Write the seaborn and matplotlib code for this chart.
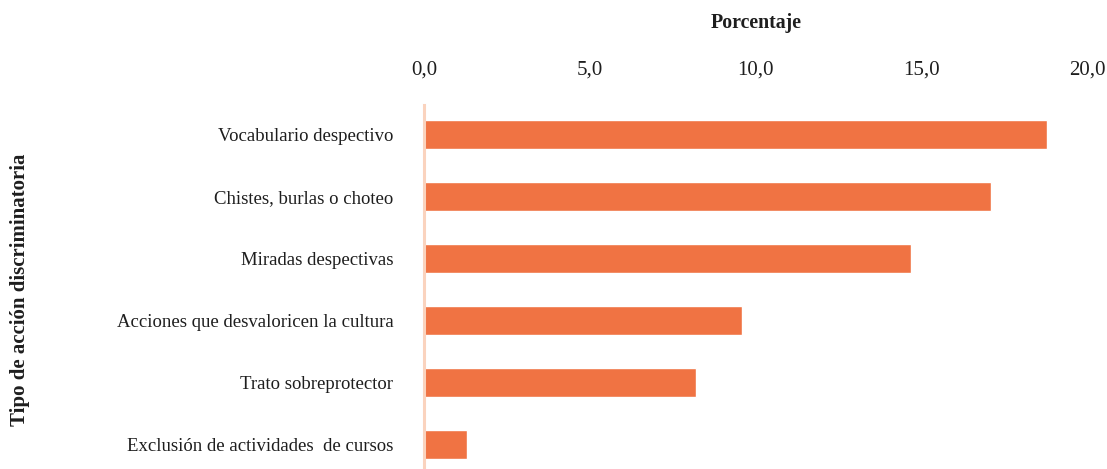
import matplotlib
matplotlib.use("Agg")
import matplotlib.pyplot as plt
import seaborn as sns
import pandas as pd
from matplotlib.ticker import FuncFormatter

categorias = [
    "Vocabulario despectivo",
    "Chistes, burlas o choteo",
    "Miradas despectivas",
    "Acciones que desvaloricen la cultura",
    "Trato sobreprotector",
    "Exclusión de actividades  de cursos",
]
porcentajes = [18.8, 17.1, 14.7, 9.6, 8.2, 1.3]
ticks_x = [0, 5, 10, 15, 20]

df = pd.DataFrame({"categoria": categorias, "porcentaje": porcentajes})

sns.set_theme(style="white")
plt.rcParams["font.family"] = ["Liberation Serif", "DejaVu Serif"]

W, H = 1107, 469
fig = plt.figure(figsize=(W / 100, H / 100), dpi=100)
# axes spans x: 424..1087 px, y: 105..475 px (bottom runs just past the canvas)
ax = fig.add_axes([424 / W, 1 - 475 / H, (1087 - 424) / W, (475 - 105) / H])

sns.barplot(data=df, x="porcentaje", y="categoria", color="#F07343",
            saturation=1, width=0.47, ax=ax)

ax.set_xlim(0, 20)
ax.set_ylim(5.49, -0.476)
ax.set_xticks(ticks_x)
ax.xaxis.set_major_formatter(FuncFormatter(lambda v, p: f"{v:.1f}".replace(".", ",")))
ax.xaxis.tick_top()
ax.tick_params(axis="x", length=0, pad=18, labelsize=15, colors="#1e1e1e")
ax.tick_params(axis="y", length=0, pad=22, labelsize=13.5, colors="#1e1e1e")

for s in ["top", "right", "bottom"]:
    ax.spines[s].set_visible(False)
ax.spines["left"].set_color("#FAD3BE")
ax.spines["left"].set_linewidth(2.2)

ax.set_xlabel("")
ax.set_ylabel("")
fig.text(756 / W, 1 - 23 / H, "Porcentaje", ha="center", va="center",
         fontsize=14.3, fontweight="bold", color="#1e1e1e")
fig.text(20 / W, 1 - 290 / H, "Tipo de acción discriminatoria", rotation=90,
         ha="center", va="center", fontsize=15, fontweight="bold", color="#1e1e1e")

fig.savefig("out.png", dpi=100)
